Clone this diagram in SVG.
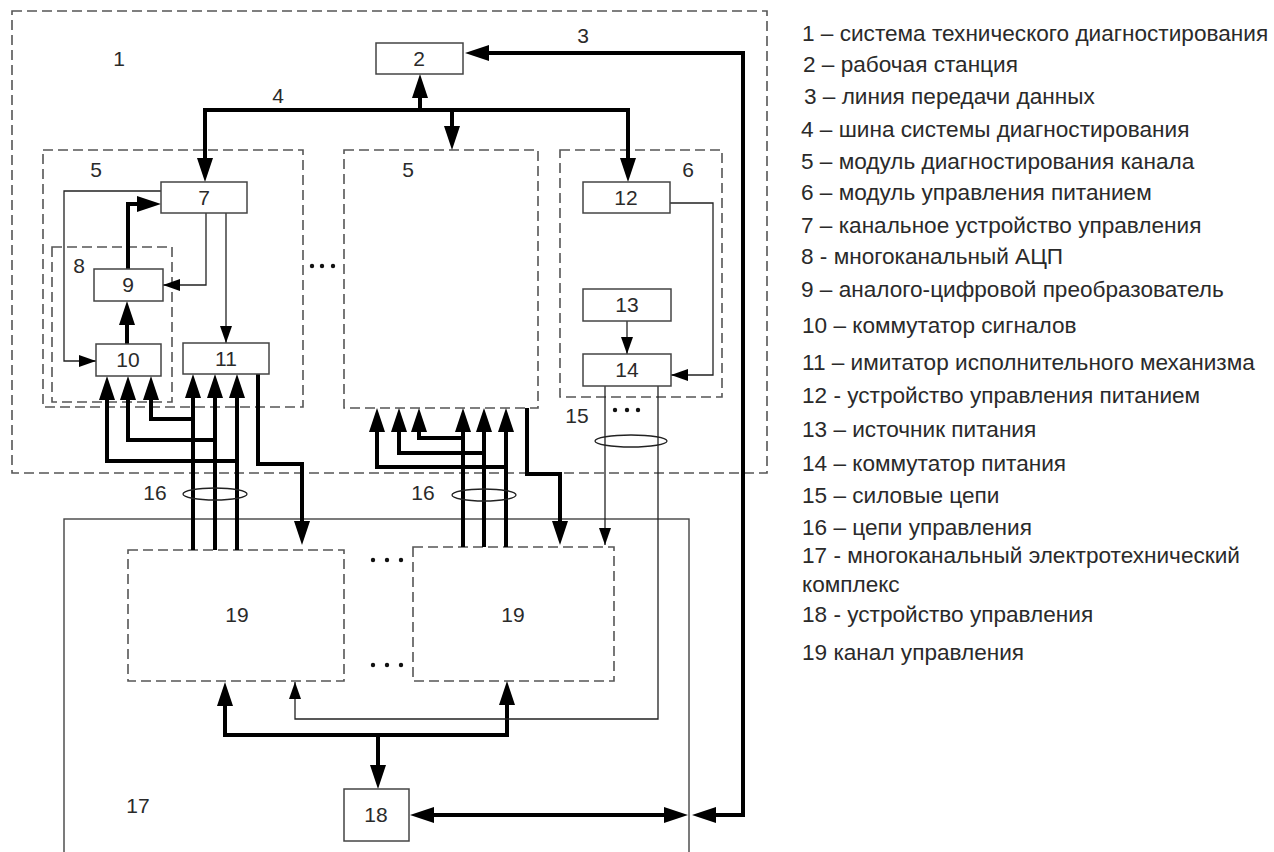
<svg xmlns="http://www.w3.org/2000/svg" width="1274" height="852" viewBox="0 0 1274 852">
<style>
.bg{fill:#fff}
.dash{fill:none;stroke:#555;stroke-width:1.6;stroke-dasharray:10 5}
.box{fill:#fff;stroke:#444;stroke-width:1.5}
.frame{fill:none;stroke:#444;stroke-width:1.4}
.thick{fill:none;stroke:#000;stroke-width:4}
.thin{fill:none;stroke:#222;stroke-width:1.3}
.ell{fill:none;stroke:#222;stroke-width:1.3}
.lbl{font-family:"Liberation Sans",Arial,sans-serif;font-size:21px;fill:#2a2a2a;text-anchor:middle}
.leg{font-family:"Liberation Sans",Arial,sans-serif;font-size:22.6px;fill:#2a2a2a}
.dot{fill:#111}
</style>
<defs>
<marker id="ah" markerUnits="userSpaceOnUse" viewBox="0 0 24 16" markerWidth="24" markerHeight="16" refX="18" refY="8" orient="auto-start-reverse"><path d="M0,0 L24,8 L0,16 z" fill="#000"/></marker>
<marker id="at" markerUnits="userSpaceOnUse" viewBox="0 0 17 12" markerWidth="17" markerHeight="12" refX="17" refY="6" orient="auto-start-reverse"><path d="M0,0 L17,6 L0,12 z" fill="#000"/></marker>
</defs>
<rect class="bg" x="0" y="0" width="1274" height="852"/>

<g id="n1"><rect class="dash" x="12" y="11" width="755" height="462"/><text class="lbl" x="119" y="66">1</text></g>
<g id="n17"><rect class="frame" x="64" y="519" width="625" height="360"/><text class="lbl" x="138" y="813">17</text></g>
<g id="n5a"><rect class="dash" x="43" y="150" width="260" height="257"/><text class="lbl" x="96" y="177">5</text></g>
<g id="n5b"><rect class="dash" x="344" y="150" width="194" height="258"/><text class="lbl" x="408" y="177">5</text></g>
<g id="n6"><rect class="dash" x="560" y="150" width="162" height="247"/><text class="lbl" x="688" y="177">6</text></g>
<g id="n8"><rect class="dash" x="52" y="247" width="120" height="155"/><text class="lbl" x="79" y="273">8</text></g>
<g id="n19a"><rect class="dash" x="128" y="550" width="216" height="131"/><text class="lbl" x="237" y="622">19</text></g>
<g id="n19b"><rect class="dash" x="413" y="547" width="201" height="134"/><text class="lbl" x="513" y="622">19</text></g>

<g id="connectors">
<path class="thick" d="M698,815 H743 V53 H471" marker-start="url(#ah)" marker-end="url(#ah)"/>
<path class="thick" d="M205,176 V110 H628 V176" marker-start="url(#ah)" marker-end="url(#ah)"/>
<path class="thick" d="M420,110 V80" marker-end="url(#ah)"/>
<path class="thick" d="M452,110 V144" marker-end="url(#ah)"/>
<path class="thick" d="M416,815 H682" marker-start="url(#ah)" marker-end="url(#ah)"/>
<path class="thick" d="M225,688 V735 H507 V687" marker-start="url(#ah)" marker-end="url(#ah)"/>
<path class="thick" d="M378,735 V783" marker-end="url(#ah)"/>
<path class="thick" d="M127,344 V307" marker-end="url(#ah)"/>
<path class="thick" d="M128,269 V204 H155" marker-end="url(#ah)"/>
<path class="thick" d="M193,550 V380" marker-end="url(#ah)"/>
<path class="thick" d="M215,550 V380" marker-end="url(#ah)"/>
<path class="thick" d="M237,550 V380" marker-end="url(#ah)"/>
<path class="thick" d="M193,419 H151 V382" marker-end="url(#ah)"/>
<path class="thick" d="M215,440 H128 V382" marker-end="url(#ah)"/>
<path class="thick" d="M237,461 H107 V382" marker-end="url(#ah)"/>
<path class="thick" d="M258,374 V464 H302 V539" marker-end="url(#ah)"/>
<path class="thick" d="M463,547 V414" marker-end="url(#ah)"/>
<path class="thick" d="M484,547 V414" marker-end="url(#ah)"/>
<path class="thick" d="M506,547 V414" marker-end="url(#ah)"/>
<path class="thick" d="M463,438 H419 V414" marker-end="url(#ah)"/>
<path class="thick" d="M484,453 H399 V414" marker-end="url(#ah)"/>
<path class="thick" d="M506,467 H377 V414" marker-end="url(#ah)"/>
<path class="thick" d="M527,408 V474 H560 V539" marker-end="url(#ah)"/>
<path class="thin" d="M161,191 H64 V361 H96" marker-end="url(#at)"/>
<path class="thin" d="M206,213 V285 H163" marker-end="url(#at)"/>
<path class="thin" d="M226,213 V343" marker-end="url(#at)"/>
<path class="thin" d="M670,203 H713 V375 H671" marker-end="url(#at)"/>
<path class="thin" d="M627,321 V354" marker-end="url(#at)"/>
<path class="thin" d="M605,386 V545" marker-end="url(#at)"/>
<path class="thin" d="M658,386 V719 H295 V682" marker-end="url(#at)"/>
<ellipse class="ell" cx="215" cy="494" rx="32" ry="6"/>
<ellipse class="ell" cx="484" cy="495" rx="32" ry="6"/>
<ellipse class="ell" cx="631" cy="441" rx="36" ry="6"/>
<circle class="dot" cx="312" cy="266" r="2.2"/><circle class="dot" cx="322" cy="266" r="2.2"/><circle class="dot" cx="333" cy="266" r="2.2"/>
<circle class="dot" cx="615" cy="410" r="2.2"/><circle class="dot" cx="627" cy="410" r="2.2"/><circle class="dot" cx="638" cy="410" r="2.2"/>
<circle class="dot" cx="373" cy="560" r="2.2"/><circle class="dot" cx="387" cy="560" r="2.2"/><circle class="dot" cx="401" cy="560" r="2.2"/>
<circle class="dot" cx="373" cy="665" r="2.2"/><circle class="dot" cx="387" cy="665" r="2.2"/><circle class="dot" cx="401" cy="665" r="2.2"/>
<text class="lbl" x="583" y="43">3</text>
<text class="lbl" x="278" y="103">4</text>
<text class="lbl" x="577" y="423">15</text>
<text class="lbl" x="155" y="500">16</text>
<text class="lbl" x="423" y="500">16</text>
</g>

<g id="n2"><rect class="box" x="376" y="43" width="87" height="31"/><text class="lbl" x="419" y="66">2</text></g>
<g id="n7"><rect class="box" x="161" y="182" width="86" height="31"/><text class="lbl" x="204" y="205">7</text></g>
<g id="n12"><rect class="box" x="583" y="182" width="87" height="31"/><text class="lbl" x="626" y="205">12</text></g>
<g id="n9"><rect class="box" x="94" y="269" width="69" height="32"/><text class="lbl" x="128" y="292">9</text></g>
<g id="n10"><rect class="box" x="96" y="344" width="65" height="32"/><text class="lbl" x="128" y="367">10</text></g>
<g id="n11"><rect class="box" x="183" y="343" width="86" height="31"/><text class="lbl" x="226" y="366">11</text></g>
<g id="n13"><rect class="box" x="583" y="289" width="88" height="32"/><text class="lbl" x="627" y="312">13</text></g>
<g id="n14"><rect class="box" x="583" y="354" width="88" height="32"/><text class="lbl" x="627" y="377">14</text></g>
<g id="n18"><rect class="box" x="344" y="789" width="65" height="52"/><text class="lbl" x="376" y="822">18</text></g>

<g id="legend">
<text class="leg" x="802" y="41">1 – система технического диагностирования</text>
<text class="leg" x="803" y="72">2 – рабочая станция</text>
<text class="leg" x="804" y="104">3 – линия передачи данных</text>
<text class="leg" x="801" y="137">4 – шина системы диагностирования</text>
<text class="leg" x="801" y="169">5 – модуль диагностирования канала</text>
<text class="leg" x="801" y="200">6 – модуль управления питанием</text>
<text class="leg" x="801" y="233">7 – канальное устройство управления</text>
<text class="leg" x="801" y="264">8 - многоканальный АЦП</text>
<text class="leg" x="801" y="297">9 – аналого-цифровой преобразователь</text>
<text class="leg" x="802" y="333">10 – коммутатор сигналов</text>
<text class="leg" x="802" y="370">11 – имитатор исполнительного механизма</text>
<text class="leg" x="802" y="403">12 - устройство управления питанием</text>
<text class="leg" x="802" y="437">13 – источник питания</text>
<text class="leg" x="802" y="471">14 – коммутатор питания</text>
<text class="leg" x="802" y="503">15 – силовые цепи</text>
<text class="leg" x="802" y="535">16 – цепи управления</text>
<text class="leg" x="802" y="563">17 - многоканальный электротехнический</text>
<text class="leg" x="802" y="592">комплекс</text>
<text class="leg" x="802" y="622">18 - устройство управления</text>
<text class="leg" x="802" y="660">19 канал управления</text>
</g>
</svg>
